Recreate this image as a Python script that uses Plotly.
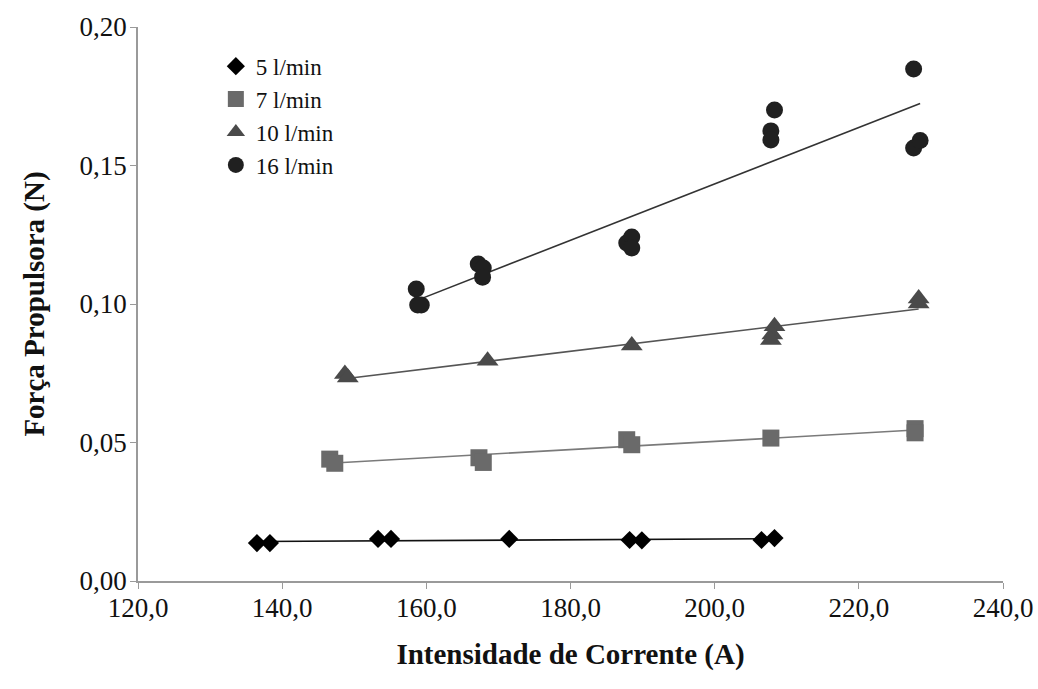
import numpy as np
import plotly.graph_objects as go

# ---- data ----
series_names = ["5 l/min", "7 l/min", "10 l/min", "16 l/min"]

x5 = [136.5, 138.3, 153.3, 155.1, 171.5, 188.2, 189.9, 206.5, 208.3]
y5 = [0.0137, 0.0137, 0.0152, 0.0152, 0.0152, 0.0148, 0.0147, 0.0148, 0.0155]

x7 = [146.6, 147.3, 167.3, 167.9, 187.8, 188.5, 207.8, 227.8, 227.8]
y7 = [0.0440, 0.0425, 0.0445, 0.0428, 0.0510, 0.0492, 0.0516, 0.0550, 0.0535]

x10 = [148.7, 149.1, 168.5, 188.5, 208.3, 208.0, 207.8, 228.3, 228.3]
y10 = [0.0747, 0.0735, 0.0795, 0.0850, 0.0920, 0.0890, 0.0870, 0.1020, 0.1002]

x16 = [158.6, 158.8, 159.3, 167.2, 167.9, 167.8, 187.8, 188.5, 188.5,
       207.8, 208.3, 207.8, 227.6, 227.6, 228.5]
y16 = [0.1054, 0.0996, 0.0996, 0.1144, 0.1130, 0.1097, 0.1220, 0.1242, 0.1202,
       0.1625, 0.1700, 0.1592, 0.1848, 0.1563, 0.1590]

x_title = "Intensidade de Corrente (A)"
y_title = "Força Propulsora (N)"

# ---- styles ----
xs = [x5, x7, x10, x16]
ys = [y5, y7, y10, y16]
symbols = ["diamond", "square", "triangle-up", "circle"]
marker_colors = ["#000000", "#6a6a6a", "#4a4a4a", "#202020"]
marker_sizes = [14, 17, 19, 17]
line_colors = ["#111111", "#7a7a7a", "#555555", "#333333"]

FONT = "Liberation Serif, Times New Roman, serif"

fig = go.Figure()
for name, x, y, sym, mc, ms, lc in zip(series_names, xs, ys, symbols,
                                      marker_colors, marker_sizes, line_colors):
    xa = np.array(x)
    ya = np.array(y)
    k, b = np.polyfit(xa, ya, 1)
    xl = np.array([xa.min(), xa.max()])
    fig.add_trace(go.Scatter(x=xl, y=k * xl + b, mode="lines",
                             line=dict(color=lc, width=1.6),
                             showlegend=False, hoverinfo="skip"))
    fig.add_trace(go.Scatter(x=x, y=y, mode="markers", name=name,
                             marker=dict(symbol=sym, color=mc, size=ms,
                                         line=dict(width=0))))

fig.update_layout(
    width=1038, height=689,
    margin=dict(l=138, r=35, t=27, b=108),
    paper_bgcolor="white", plot_bgcolor="white",
    separators=", ",
    font=dict(family=FONT, color="#111111", size=26),
    legend=dict(x=0.09, y=0.968, xanchor="left", yanchor="top",
                bgcolor="rgba(255,255,255,0)",
                font=dict(family=FONT, size=23, color="#111111"),
                itemwidth=30, tracegroupgap=0),
    showlegend=True,
)
fig.update_xaxes(range=[120, 240], dtick=20, tickformat=".1f",
                 showgrid=False, zeroline=False, automargin=False,
                 showline=True, linecolor="#9a9a9a", linewidth=1.5,
                 ticks="outside", ticklen=6, tickcolor="#9a9a9a",
                 ticklabelstandoff=-4,
                 tickfont=dict(family=FONT, size=27),
                 title=dict(text="<b>" + x_title + "</b>",
                            font=dict(family=FONT, size=29), standoff=22))
fig.update_yaxes(range=[0, 0.2], dtick=0.05, tickformat=".2f",
                 showgrid=False, zeroline=False, automargin=False,
                 showline=True, linecolor="#9a9a9a", linewidth=1.5,
                 ticks="outside", ticklen=6, tickcolor="#9a9a9a",
                 ticklabelstandoff=-2,
                 tickfont=dict(family=FONT, size=27),
                 title=dict(text="<b>" + y_title + "</b>",
                            font=dict(family=FONT, size=29), standoff=26))

fig.write_html("out.html", config={"displayModeBar": False})

# remove the browser's default body margin so the figure fills the window
with open("out.html", "r", encoding="utf-8") as f:
    html = f.read()
html = html.replace("<head>", "<head><style>body{margin:0;}</style>", 1)
with open("out.html", "w", encoding="utf-8") as f:
    f.write(html)
